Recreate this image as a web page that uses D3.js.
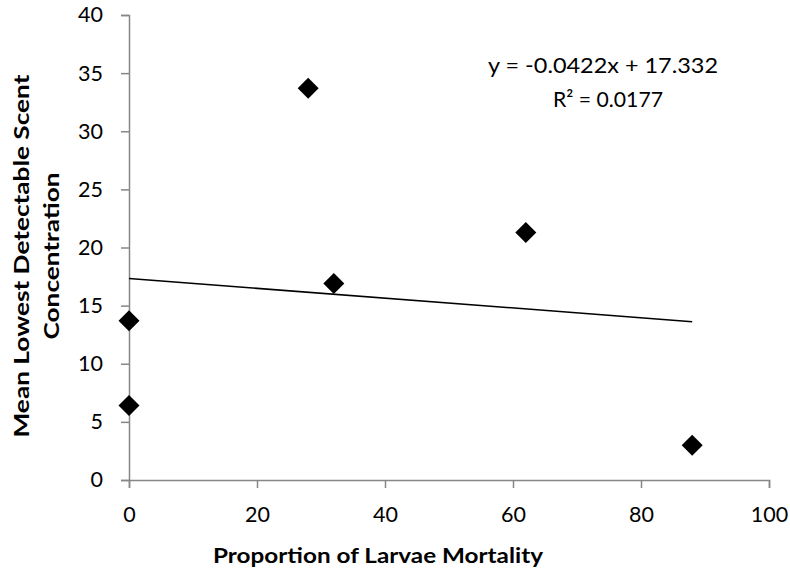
<!DOCTYPE html>
<html>
<head>
<meta charset="utf-8">
<script src="https://cdn.jsdelivr.net/npm/d3@7"></script>
<style>
  html, body { margin: 0; padding: 0; background: #fff; }
  svg { display: block; font-family: Lato, "Open Sans", sans-serif; }
</style>
</head>
<body>
<svg id="chart" width="790" height="571"></svg>
<script>
// Data
const mortality = [0, 0, 28, 32, 62, 88];
const scent = [6.4, 13.7, 33.7, 16.9, 21.3, 3.0];
const xTicks = [0, 20, 40, 60, 80, 100];
const yTicks = [0, 5, 10, 15, 20, 25, 30, 35, 40];
const trendSlope = -0.0422;
const trendIntercept = 17.332;
const trendRange = [0, 88];
const equationLines = ["y = -0.0422x + 17.332", "R² = 0.0177"];
const xTitle = "Proportion of Larvae Mortality";
const yTitleLines = ["Mean Lowest Detectable Scent", "Concentration"];

const svg = d3.select("#chart");
const x = d3.scaleLinear().domain([0, 100]).range([129, 769]);
const y = d3.scaleLinear().domain([0, 40]).range([480, 15]);
const axisColor = "#868686";
const fontFam = "Lato, 'Open Sans', sans-serif";

// X axis
const xAxis = svg.append("g").attr("transform", `translate(0,${y(0)})`)
  .call(d3.axisBottom(x).tickValues(xTicks).tickSize(8).tickPadding(19).tickFormat(d3.format("d")));
xAxis.select(".domain").attr("stroke", axisColor).attr("stroke-width", 1.5);
xAxis.selectAll(".tick line").attr("stroke", axisColor).attr("stroke-width", 1.5);
xAxis.selectAll(".tick text").attr("font-size", 21.5).attr("fill", "#000")
  .attr("font-family", fontFam);

// Y axis
const yAxis = svg.append("g").attr("transform", `translate(${x(0)},0)`)
  .call(d3.axisLeft(y).tickValues(yTicks).tickSize(8).tickPadding(18).tickFormat(d3.format("d")));
yAxis.select(".domain").attr("stroke", axisColor).attr("stroke-width", 1.5);
yAxis.selectAll(".tick line").attr("stroke", axisColor).attr("stroke-width", 1.5);
yAxis.selectAll(".tick text").attr("font-size", 21.5).attr("fill", "#000")
  .attr("font-family", fontFam);

// Trend line
const trend = trendRange.map(v => [v, trendSlope * v + trendIntercept]);
svg.append("path")
  .datum(trend)
  .attr("fill", "none")
  .attr("stroke", "#000")
  .attr("stroke-width", 1.6)
  .attr("d", d3.line().x(d => x(d[0])).y(d => y(d[1])));

// Points (diamonds)
const pts = mortality.map((m, i) => ({ m, s: scent[i] }));
svg.append("g").selectAll("path")
  .data(pts)
  .join("path")
  .attr("transform", d => `translate(${x(d.m)},${y(d.s)})`)
  .attr("d", "M0,-10.5L10.5,0L0,10.5L-10.5,0Z")
  .attr("fill", "#000");

// Equation
const eqLens = [230, 110];
const eqX = [603, 608];
svg.append("g").selectAll("text")
  .data(equationLines)
  .join("text")
  .attr("x", (d, i) => eqX[i])
  .attr("y", (d, i) => [73, 107][i])
  .attr("text-anchor", "middle")
  .attr("font-size", 22)
  .attr("textLength", (d, i) => eqLens[i])
  .attr("lengthAdjust", "spacingAndGlyphs")
  .text(d => d);

// X title
svg.append("text")
  .attr("x", 378)
  .attr("y", 563)
  .attr("text-anchor", "middle")
  .attr("font-size", 21)
  .attr("font-weight", "bold")
  .attr("textLength", 330)
  .attr("lengthAdjust", "spacingAndGlyphs")
  .text(xTitle);

// Y title
const yLens = [363, 167];
svg.append("g").attr("transform", "translate(0,256) rotate(-90)")
  .selectAll("text")
  .data(yTitleLines)
  .join("text")
  .attr("x", 0)
  .attr("y", (d, i) => [29, 59][i])
  .attr("text-anchor", "middle")
  .attr("font-size", 21)
  .attr("font-weight", "bold")
  .attr("textLength", (d, i) => yLens[i])
  .attr("lengthAdjust", "spacingAndGlyphs")
  .text(d => d);
</script>
</body>
</html>
